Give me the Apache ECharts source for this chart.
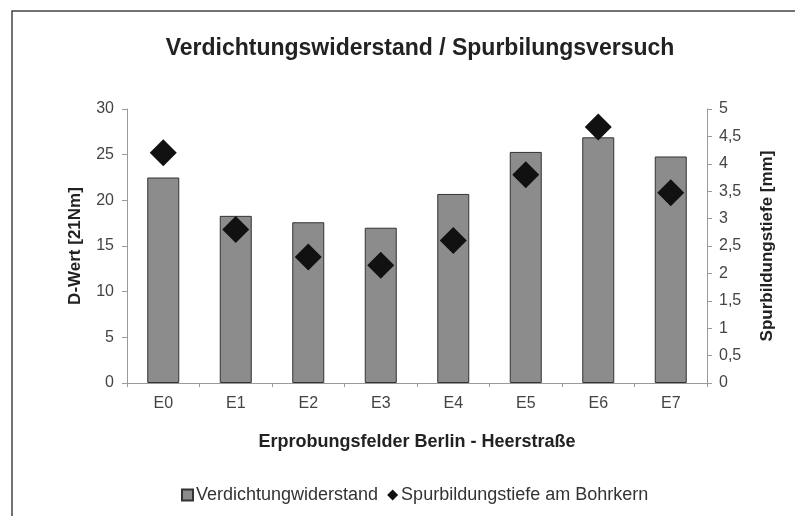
<!DOCTYPE html>
<html>
<head>
<meta charset="utf-8">
<script src="https://cdn.jsdelivr.net/npm/echarts@6/dist/echarts.min.js"></script>
<style>
  html, body { margin: 0; padding: 0; background: #fff; }
  #chart { width: 795px; height: 516px; }
</style>
</head>
<body>
<div id="chart"></div>
<script>
// Erprobungsfelder
const categories = ["E0", "E1", "E2", "E3", "E4", "E5", "E6", "E7"];
// D-Wert [21Nm], linke Achse
const verdichtung = [22.5, 18.3, 17.6, 17.0, 20.7, 25.3, 26.9, 24.8];
// Spurbildungstiefe [mm], rechte Achse
const spurtiefe = [4.2, 2.8, 2.3, 2.15, 2.6, 3.8, 4.67, 3.47];
const leftTicks = { min: 0, max: 30, interval: 5 };
const rightTicks = { min: 0, max: 5, interval: 0.5 };

const font = "'Liberation Sans', Arial, sans-serif";
const axisGrey = "#9a9a9a";

let myChart = echarts.init(document.getElementById("chart"));
let option = {
  backgroundColor: "#fff",
  animation: false,
  textStyle: { fontFamily: font },
  title: {
    text: "Verdichtungswiderstand / Spurbilungsversuch",
    left: 415,
    top: 32,
    textAlign: "center",
    textStyle: { fontFamily: font, fontSize: 23, fontWeight: "bold", color: "#222" }
  },
  // Rahmen oben/links
  graphic: [
    {
      type: "rect",
      shape: { x: 12, y: 11, width: 820, height: 540 },
      style: { fill: "none", stroke: "#444", lineWidth: 1.5 },
      silent: true
    }
  ],
  legend: {
    top: 481,
    left: 176,
    itemGap: 9,
    itemWidth: 11,
    itemHeight: 11,
    textStyle: { fontFamily: font, fontSize: 18, color: "#333", padding: [0, 0, 0, -2] },
    data: [
      { name: "Verdichtungwiderstand", icon: "rect" },
      { name: "Spurbildungstiefe am Bohrkern", icon: "diamond" }
    ]
  },
  grid: { left: 127, right: 88, top: 109, bottom: 133 },
  xAxis: {
    type: "category",
    data: categories,
    name: "Erprobungsfelder Berlin - Heerstraße",
    nameLocation: "middle",
    nameGap: 50,
    nameTextStyle: { fontFamily: font, fontSize: 18, fontWeight: "bold", color: "#222" },
    axisLine: { lineStyle: { color: axisGrey } },
    axisTick: { show: true, length: 4, lineStyle: { color: axisGrey } },
    axisLabel: { fontFamily: font, fontSize: 16, color: "#444", margin: 13 }
  },
  yAxis: [
    {
      type: "value",
      min: leftTicks.min,
      max: leftTicks.max,
      interval: leftTicks.interval,
      name: "D-Wert [21Nm]",
      nameLocation: "middle",
      nameRotate: 90,
      nameGap: 43,
      nameTextStyle: { fontFamily: font, fontSize: 17, fontWeight: "bold", color: "#222" },
      axisLine: { show: true, lineStyle: { color: axisGrey } },
      axisTick: { show: true, length: 5, lineStyle: { color: axisGrey } },
      axisLabel: { fontFamily: font, fontSize: 16, color: "#444", margin: 13 },
      splitLine: { show: false }
    },
    {
      type: "value",
      position: "right",
      min: rightTicks.min,
      max: rightTicks.max,
      interval: rightTicks.interval,
      name: "Spurbildungstiefe [mm]",
      nameLocation: "middle",
      nameRotate: 90,
      nameGap: 52,
      nameTextStyle: { fontFamily: font, fontSize: 17, fontWeight: "bold", color: "#222" },
      axisLine: { show: true, lineStyle: { color: axisGrey } },
      axisTick: { show: true, length: 5, lineStyle: { color: axisGrey } },
      axisLabel: {
        fontFamily: font, fontSize: 16, color: "#444", margin: 12,
        formatter: v => String(v).replace(".", ",")
      },
      splitLine: { show: false }
    }
  ],
  series: [
    {
      name: "Verdichtungwiderstand",
      type: "bar",
      yAxisIndex: 0,
      barWidth: 32,
      itemStyle: { color: "#8c8c8c", borderColor: "#333", borderWidth: 1 },
      data: verdichtung
    },
    {
      name: "Spurbildungstiefe am Bohrkern",
      type: "scatter",
      yAxisIndex: 1,
      symbol: "diamond",
      symbolSize: 27,
      itemStyle: { color: "#111", opacity: 1 },
      z: 5,
      data: spurtiefe
    }
  ]
};
myChart.setOption(option);
</script>
</body>
</html>
